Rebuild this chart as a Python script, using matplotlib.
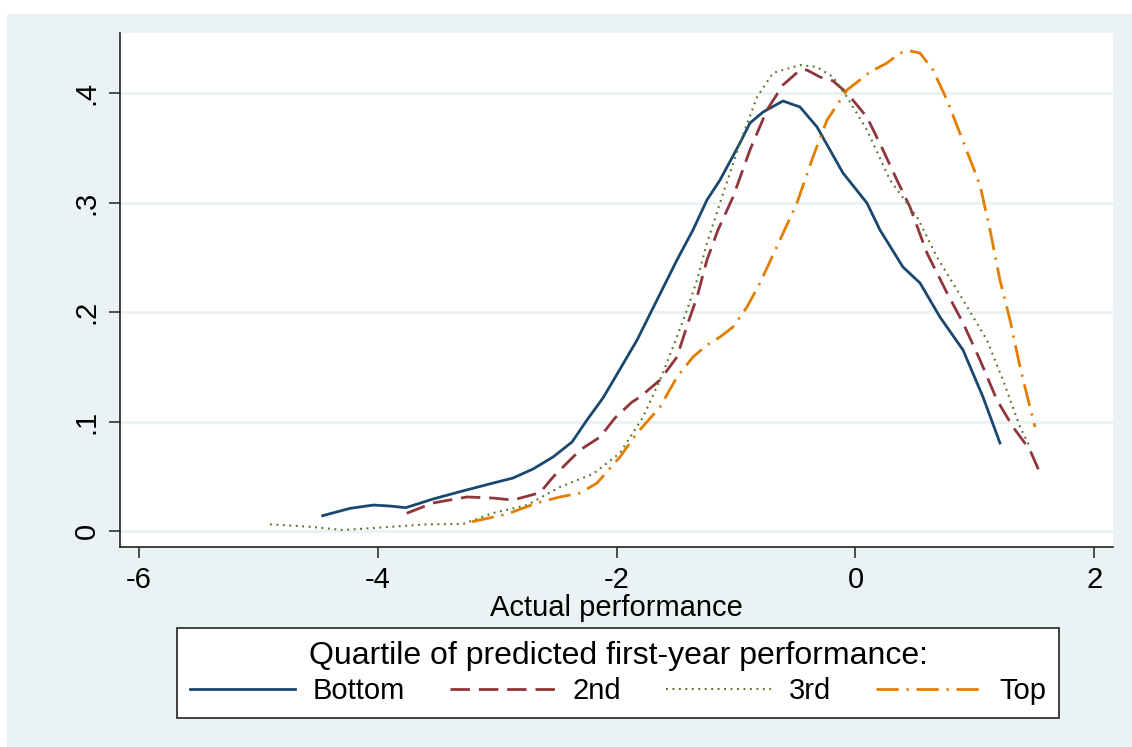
import matplotlib
matplotlib.use("Agg")
import matplotlib.pyplot as plt
from matplotlib.patches import Rectangle

# kernel density curves
bottom_x = [-4.459, -4.230, -4.035, -3.895, -3.764, -3.536, -3.310, -3.033, -2.866, -2.699,
            -2.531, -2.372, -2.247, -2.113, -2.029, -1.828, -1.661, -1.494, -1.360, -1.243,
            -1.134, -0.967, -0.883, -0.774, -0.607, -0.464, -0.322, -0.105, 0.096, 0.205,
            0.397, 0.540, 0.707, 0.900, 1.067, 1.209]
bottom_y = [0.0140, 0.0207, 0.0237, 0.0228, 0.0213, 0.0292, 0.0359, 0.0438, 0.0484, 0.0566,
            0.0676, 0.0813, 0.1014, 0.1215, 0.1370, 0.1744, 0.2110, 0.2475, 0.2749, 0.3023,
            0.3205, 0.3543, 0.3726, 0.3826, 0.3927, 0.3872, 0.3690, 0.3270, 0.2995, 0.2749,
            0.2411, 0.2265, 0.1954, 0.1653, 0.1224, 0.0804]

second_x = [-3.756, -3.536, -3.251, -3.033, -2.866, -2.640, -2.531, -2.448, -2.305, -2.138,
            -2.013, -1.870, -1.803, -1.636, -1.494, -1.402, -1.326, -1.243, -1.151, -1.025,
            -0.883, -0.741, -0.607, -0.464, -0.406, -0.297, -0.188, -0.071, 0.096, 0.230,
            0.347, 0.456, 0.598, 0.766, 0.900, 1.042, 1.184, 1.318, 1.460, 1.544]
second_y = [0.0162, 0.0256, 0.0311, 0.0301, 0.0283, 0.0350, 0.0493, 0.0584, 0.0740, 0.0858,
            0.1032, 0.1178, 0.1224, 0.1379, 0.1589, 0.1900, 0.2137, 0.2475, 0.2749, 0.3050,
            0.3480, 0.3845, 0.4073, 0.4210, 0.4210, 0.4146, 0.4110, 0.4000, 0.3780, 0.3480,
            0.3205, 0.2959, 0.2539, 0.2174, 0.1900, 0.1562, 0.1196, 0.0950, 0.0740, 0.0530]

third_x = [-4.900, -4.565, -4.289, -4.004, -3.586, -3.285, -3.033, -2.749, -2.473, -2.197,
           -1.971, -1.778, -1.636, -1.527, -1.410, -1.326, -1.243, -1.134, -0.967, -0.824,
           -0.690, -0.464, -0.322, -0.188, -0.071, 0.096, 0.289, 0.515, 0.682, 0.900,
           1.100, 1.234, 1.377, 1.460]
third_y = [0.0061, 0.0039, 0.0009, 0.0030, 0.0061, 0.0064, 0.0164, 0.0237, 0.0402, 0.0521,
           0.0712, 0.1041, 0.1379, 0.1680, 0.2018, 0.2292, 0.2630, 0.2995, 0.3543, 0.3963,
           0.4183, 0.4256, 0.4237, 0.4146, 0.3963, 0.3662, 0.3205, 0.2868, 0.2502, 0.2110,
           0.1744, 0.1379, 0.0950, 0.0767]

top_x = [-3.209, -2.916, -2.665, -2.473, -2.305, -2.163, -1.971, -1.828, -1.636, -1.494,
         -1.360, -1.243, -1.134, -1.025, -0.908, -0.799, -0.632, -0.490, -0.356, -0.238,
         -0.071, 0.121, 0.264, 0.372, 0.456, 0.540, 0.649, 0.766, 1.042, 1.126,
         1.209, 1.293, 1.377, 1.460, 1.502]
top_y = [0.0085, 0.0155, 0.0256, 0.0311, 0.0347, 0.0438, 0.0676, 0.0895, 0.1132, 0.1406,
         0.1589, 0.1699, 0.1772, 0.1863, 0.2046, 0.2265, 0.2658, 0.2995, 0.3416, 0.3753,
         0.4027, 0.4192, 0.4274, 0.4365, 0.4384, 0.4365, 0.4210, 0.3936, 0.3160, 0.2749,
         0.2292, 0.1927, 0.1498, 0.1132, 0.0950]

labels = ['Bottom', '2nd', '3rd', 'Top']
x_ticks = [-6, -4, -2, 0, 2]
x_ticklabels = ['-6', '-4', '-2', '0', '2']
y_ticks = [0, 0.1, 0.2, 0.3, 0.4]
y_ticklabels = ['0', '.1', '.2', '.3', '.4']

BG = '#eaf2f3'
plt.rcParams['font.family'] = ['Liberation Sans', 'DejaVu Sans']

fig = plt.figure(figsize=(11.32, 7.47), dpi=100, facecolor='white')
# bluish graph region, leaving a thin white margin top/left
fig.patches.append(Rectangle((7 / 1132, 0), 1 - 7 / 1132, 1 - 14 / 747,
                             transform=fig.transFigure, facecolor=BG, edgecolor='none', zorder=-5))

ax = fig.add_axes([120 / 1132, 1 - 547 / 747, (1113 - 120) / 1132, (547 - 33) / 747])
ax.set_facecolor('white')

ax.plot(bottom_x, bottom_y, color='#1a476f', lw=2.0, label=labels[0])
ax.plot(second_x, second_y, color='#90353b', lw=2.0, dashes=(7, 3.2), label=labels[1])
ax.plot(third_x, third_y, color='#55752f', lw=1.5, dashes=(0.9, 2.2), label=labels[2])
ax.plot(top_x, top_y, color='#e37e00', lw=2.0, dashes=(8, 2.8, 0.8, 2.8), label=labels[3])

ax.set_xlim(-6.155, 2.155)
ax.set_ylim(-0.0146, 0.4548)
ax.set_xticks(x_ticks)
ax.set_xticklabels(x_ticklabels)
ax.set_yticks(y_ticks)
ax.set_yticklabels(y_ticklabels, rotation=90, va='center')
ax.grid(axis='y', color=BG, lw=2.2)
ax.set_axisbelow(True)

for side in ['top', 'right']:
    ax.spines[side].set_visible(False)
for side in ['left', 'bottom']:
    ax.spines[side].set_color('#222222')
    ax.spines[side].set_linewidth(1.2)
ax.tick_params(axis='both', direction='out', length=8, width=1.1, color='#222222',
               labelsize=21, pad=6)
ax.set_xlabel('Actual performance', fontsize=21, labelpad=0)

leg = fig.legend(loc='center', bbox_to_anchor=(618 / 1132, 1 - 673 / 747), ncol=4,
                 title='Quartile of predicted first-year performance:', fontsize=21,
                 title_fontsize=23, frameon=True, fancybox=False, framealpha=1,
                 handlelength=3.6, handletextpad=0.6, columnspacing=1.55,
                 borderpad=0.45, labelspacing=0.2)
leg.get_frame().set_edgecolor('#333333')
leg.get_frame().set_linewidth(1.3)
leg.get_frame().set_facecolor('white')

fig.savefig('out.png', dpi=100, facecolor=fig.get_facecolor())
